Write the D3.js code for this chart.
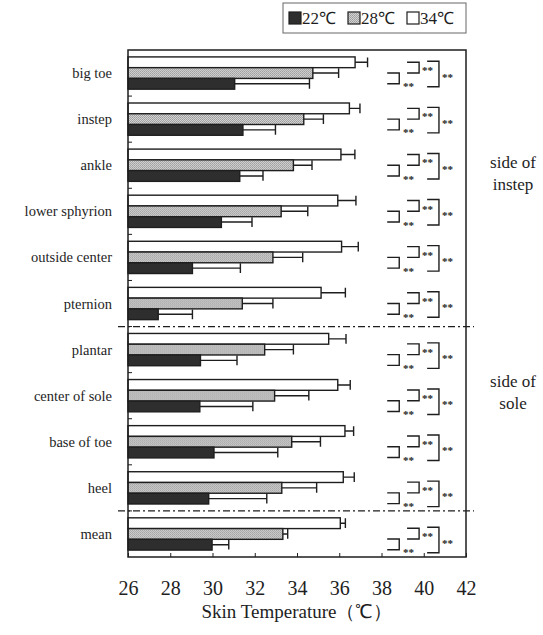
<!DOCTYPE html>
<html>
<head>
<meta charset="utf-8">
<script src="https://cdn.jsdelivr.net/npm/d3@7"></script>
<style>
body { margin: 0; background: #fff; }
svg text { font-family: "Liberation Serif", "Times New Roman", serif; }
</style>
</head>
<body>
<svg id="chart"></svg>
<script>
// sites, top to bottom
const sites = ["big toe", "instep", "ankle", "lower sphyrion", "outside center", "pternion",
               "plantar", "center of sole", "base of toe", "heel", "mean"];
const temps = ["34℃", "28℃", "22℃"];        // order of bars inside a group
const legendTemps = ["22℃", "28℃", "34℃"];

const mean34 = [36.75, 36.48, 36.08, 35.93, 36.11, 35.14, 35.50, 35.93, 36.27, 36.19, 36.05];
const sd34   = [0.59, 0.50, 0.66, 0.86, 0.79, 1.15, 0.82, 0.59, 0.41, 0.52, 0.24];
const mean28 = [34.75, 34.32, 33.83, 33.25, 32.86, 31.41, 32.47, 32.94, 33.75, 33.28, 33.33];
const sd28   = [1.22, 0.93, 0.88, 1.26, 1.41, 1.45, 1.36, 1.62, 1.36, 1.65, 0.23];
const mean22 = [31.05, 31.44, 31.29, 30.42, 29.05, 27.43, 29.43, 29.40, 30.07, 29.82, 29.98];
const sd22   = [3.54, 1.54, 1.10, 1.45, 2.27, 1.62, 1.73, 2.51, 3.02, 2.75, 0.79];

// significance between pairs, same for every site
const pairs = [["28℃", "22℃"], ["34℃", "28℃"], ["34℃", "22℃"]];
const pairMarks = ["**", "**", "**"];

const xTicks = [26, 28, 30, 32, 34, 36, 38, 40, 42];
const sections = [["side of", "instep"], ["side of", "sole"]];

var dimensions = {
    width: 543,
    height: 635,
    margin: { top: 50, bottom: 78, left: 128, right: 77 }
}

var svg = d3.select("#chart")
            .attr("width", dimensions.width)
            .attr("height", dimensions.height)

const ink = "#1e1e1e";

const defs = svg.append("defs");
const pat = defs.append("pattern")
    .attr("id", "stipple")
    .attr("width", 2).attr("height", 2)
    .attr("patternUnits", "userSpaceOnUse");
pat.append("rect").attr("width", 2).attr("height", 2).attr("fill", "#d2d2d2");
pat.append("rect").attr("width", 1).attr("height", 1).attr("fill", "#9c9c9c");
pat.append("rect").attr("x", 1).attr("y", 1).attr("width", 1).attr("height", 1).attr("fill", "#a8a8a8");

const fills = {"34℃": "#ffffff", "28℃": "url(#stipple)", "22℃": "#2e2e2e"};

const data = sites.map((s, i) => ({
    site: s,
    i: i,
    bars: [
        {t: "34℃", m: mean34[i], sd: sd34[i]},
        {t: "28℃", m: mean28[i], sd: sd28[i]},
        {t: "22℃", m: mean22[i], sd: sd22[i]}
    ]
}));

const plotL = dimensions.margin.left, plotR = dimensions.width - dimensions.margin.right;
const plotT = dimensions.margin.top, plotB = dimensions.height - dimensions.margin.bottom;

var xScale = d3.scaleLinear().domain([26, 42]).range([plotL, plotR]);
var yScale = d3.scaleBand().domain(sites).range([plotT, plotB]).paddingInner(0.3).paddingOuter(0.15);
var yInner = d3.scaleBand().domain(temps).range([0, yScale.bandwidth()]);

const gap = yScale.step() * yScale.paddingInner() / 2;
const boundary = i => yScale(sites[i]) - gap;

// bars
var groups = svg.append("g").selectAll("g")
    .data(data).enter().append("g")
    .attr("transform", d => `translate(0, ${yScale(d.site)})`);

groups.selectAll("rect")
    .data(d => d.bars).enter().append("rect")
    .attr("x", xScale(26))
    .attr("y", d => yInner(d.t))
    .attr("width", d => xScale(d.m) - xScale(26))
    .attr("height", yInner.bandwidth())
    .attr("fill", d => fills[d.t])
    .attr("stroke", ink)
    .attr("stroke-width", 1.4);

// error bars (one-sided)
groups.selectAll("path.err")
    .data(d => d.bars).enter().append("path")
    .attr("class", "err")
    .attr("fill", "none")
    .attr("stroke", ink)
    .attr("stroke-width", 1.4)
    .attr("d", d => {
        const y0 = yInner(d.t), yc = y0 + yInner.bandwidth() / 2;
        const x0 = xScale(d.m), x1 = xScale(d.m + d.sd);
        return `M${x0},${yc}H${x1}M${x1},${y0 + 0.5}V${y0 + yInner.bandwidth() - 0.5}`;
    });

// significance brackets
const bracketX = [[38.27, 38.84], [39.21, 39.78], [40.16, 40.72]];
groups.each(function(d) {
    const g = d3.select(this);
    const dy = d.i >= 6 ? 5 : 0;
    const yc = t => yInner(t) + yInner.bandwidth() / 2 + dy;
    pairs.forEach((p, k) => {
        const xa = xScale(bracketX[k][0]), xb = xScale(bracketX[k][1]);
        let ya = yc(p[0]), yb = yc(p[1]);
        if (k === 2) { ya -= 1; yb += 3; }
        g.append("path")
            .attr("fill", "none")
            .attr("stroke", ink)
            .attr("stroke-width", 1.4)
            .attr("d", `M${xa},${ya}H${xb}V${yb}H${xa}`);
        let lx, ly;
        if (k === 0) { lx = xScale(bracketX[1][0]) - 4; ly = yb; }
        else { lx = xb + 3; ly = (ya + yb) / 2; }
        g.append("text")
            .attr("x", lx).attr("y", ly)
            .attr("dy", "0.6em")
            .attr("fill", ink)
            .style("font-size", "11px")
            .style("font-weight", "bold")
            .text(pairMarks[k]);
    });
});

// frame
svg.append("rect")
    .attr("x", plotL).attr("y", plotT)
    .attr("width", plotR - plotL).attr("height", plotB - plotT)
    .attr("fill", "none")
    .attr("stroke", ink)
    .attr("stroke-width", 1.5);

// left ticks between groups
svg.append("g").selectAll("line")
    .data(sites.slice(1).map((s, i) => i + 1)).enter().append("line")
    .attr("x1", plotL).attr("x2", plotL + 4)
    .attr("y1", i => boundary(i)).attr("y2", i => boundary(i))
    .attr("stroke", ink).attr("stroke-width", 1);

// section separators
svg.append("g").selectAll("line")
    .data([6, 10]).enter().append("line")
    .attr("x1", plotL - 10).attr("x2", plotR + 8)
    .attr("y1", i => boundary(i)).attr("y2", i => boundary(i))
    .attr("stroke", ink).attr("stroke-width", 1.2)
    .attr("stroke-dasharray", "7,3,2,3");

// x axis
var xAxisGen = d3.axisBottom(xScale).tickValues(xTicks).tickSize(-4).tickPadding(24).tickFormat(d3.format("d"));
var xAxis = svg.append("g")
    .attr("transform", `translate(0, ${plotB})`)
    .call(xAxisGen)
    .attr("font-family", null);
xAxis.select(".domain").remove();
xAxis.selectAll("line").attr("stroke", ink).attr("stroke-width", 1);
xAxis.selectAll("text")
    .attr("fill", ink)
    .style("font-size", "20px");

svg.append("text")
    .attr("x", (plotL + plotR) / 2)
    .attr("y", 618)
    .attr("text-anchor", "middle")
    .attr("fill", ink)
    .style("font-size", "19px")
    .text("Skin Temperature（℃）");

// site labels
svg.append("g").selectAll("text")
    .data(sites).enter().append("text")
    .attr("x", plotL - 16)
    .attr("y", d => yScale(d) + yScale.bandwidth() / 2)
    .attr("dy", "0.35em")
    .attr("text-anchor", "end")
    .attr("fill", ink)
    .style("font-size", "14.5px")
    .text(d => d);

// section labels
const secY = [162, 381];
sections.forEach((s, k) => {
    const t = svg.append("text")
        .attr("x", 513)
        .attr("y", secY[k])
        .attr("text-anchor", "middle")
        .attr("fill", ink)
        .style("font-size", "17px");
    s.forEach((line, j) => {
        t.append("tspan").attr("x", 513).attr("dy", j === 0 ? "0.35em" : "1.3em").text(line);
    });
});

// legend
const legend = svg.append("g").attr("transform", "translate(283, 3)");
legend.append("rect")
    .attr("width", 183).attr("height", 30)
    .attr("fill", "#fff").attr("stroke", "#666").attr("stroke-width", 1);
const legItem = legend.selectAll("g.item")
    .data(legendTemps).enter().append("g")
    .attr("transform", (d, i) => `translate(${6 + i * 59}, 0)`);
legItem.append("rect")
    .attr("y", 9).attr("width", 12).attr("height", 12)
    .attr("fill", d => fills[d])
    .attr("stroke", ink).attr("stroke-width", 1.2);
legItem.append("text")
    .attr("x", 13).attr("y", 15).attr("dy", "0.35em")
    .attr("fill", ink)
    .style("font-size", "17px")
    .text(d => d);
</script>
</body>
</html>
